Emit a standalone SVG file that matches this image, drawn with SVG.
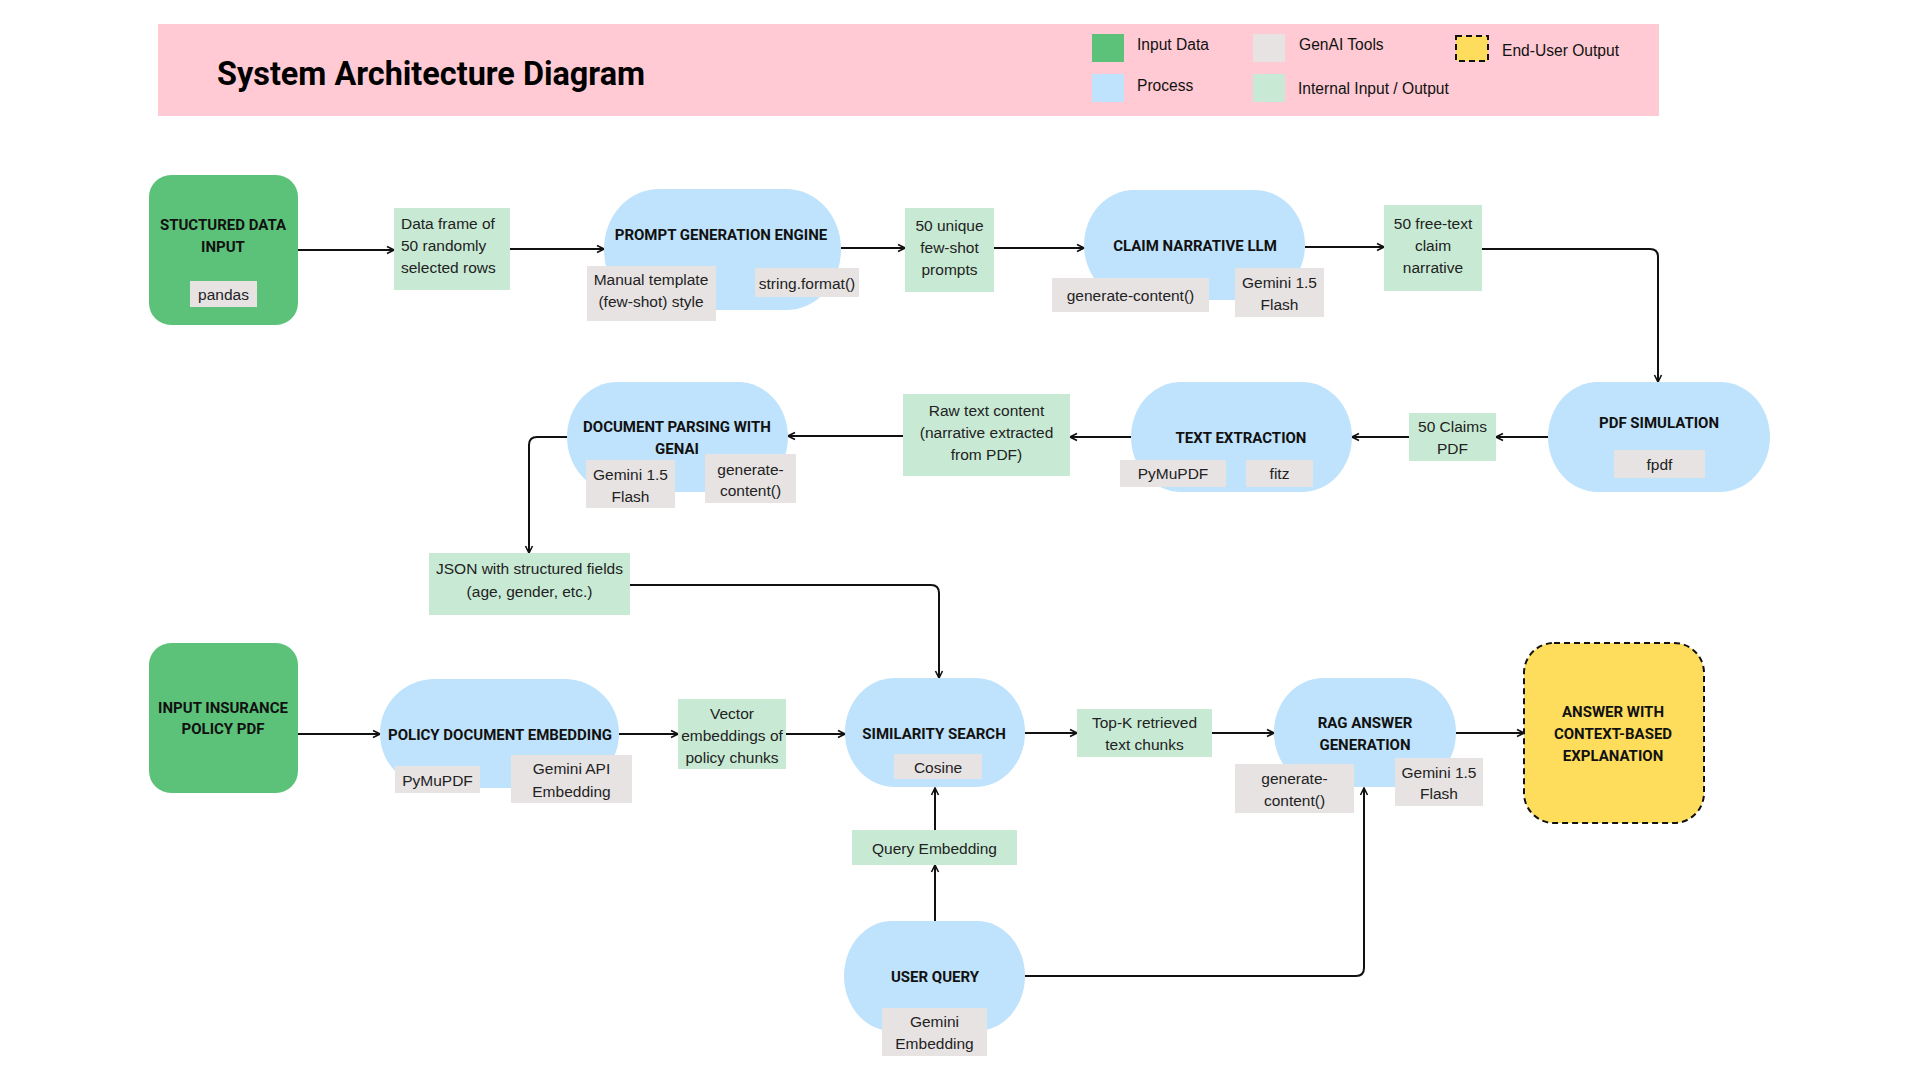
<svg xmlns="http://www.w3.org/2000/svg" width="1920" height="1080" viewBox="0 0 1920 1080">
<style>
.title{font-family:Roboto,"Liberation Sans",sans-serif;font-weight:700;font-size:32.4px;fill:#000}
.leg{font-family:"Liberation Sans",Arial,sans-serif;font-size:15.6px;fill:#111}
.nt{font-family:Roboto,"Liberation Sans",sans-serif;font-weight:700;font-size:15px;fill:#111;text-anchor:middle;dominant-baseline:central}
.t{font-family:"Liberation Sans",Arial,sans-serif;font-size:15.5px;fill:#222;text-anchor:middle;dominant-baseline:central}
.tl{font-family:"Liberation Sans",Arial,sans-serif;font-size:15.5px;fill:#222;dominant-baseline:central}
.inp{fill:#5CC179}
.proc{fill:#BFE3FC}
.io{fill:#C8EAD4}
.tool{fill:#E7E3E3}
.out{fill:#FEDC5C;stroke:#111;stroke-width:2;stroke-dasharray:6 4}
.c{fill:none;stroke:#111;stroke-width:2;marker-end:url(#ah)}
</style>
<defs>
<marker id="ah" viewBox="0 0 10 10" refX="9" refY="5" markerWidth="10" markerHeight="10" markerUnits="userSpaceOnUse" orient="auto">
<path d="M2,1.5 L9,5 L2,8.5" fill="none" stroke="#111" stroke-width="1.6"/>
</marker>
</defs>
<rect width="1920" height="1080" fill="#fff"/>
<g id="header">
<rect x="158" y="24" width="1501" height="92" fill="#FFCAD3"/>
<text class="title" x="217" y="85">System Architecture Diagram</text>
<rect x="1092" y="34" width="32" height="28" class="inp"/>
<text class="leg" x="1137" y="50">Input Data</text>
<rect x="1253" y="34" width="32" height="28" class="tool"/>
<text class="leg" x="1299" y="50">GenAI Tools</text>
<rect x="1456" y="36" width="32" height="25" class="out"/>
<text class="leg" x="1502" y="56">End-User Output</text>
<rect x="1092" y="74" width="32" height="28" class="proc"/>
<text class="leg" x="1137" y="91">Process</text>
<rect x="1253" y="74" width="32" height="28" class="io"/>
<text class="leg" x="1298" y="94">Internal Input / Output</text>
</g>
<g id="connectors">
<path class="c" d="M298,250 H394"/>
<path class="c" d="M510,249 H604"/>
<path class="c" d="M841,248 H905"/>
<path class="c" d="M994,248 H1084"/>
<path class="c" d="M1305,247 H1384"/>
<path class="c" d="M1482,249 H1650 Q1658,249 1658,257 V382"/>
<path class="c" d="M1548,437 H1496"/>
<path class="c" d="M1409,437 H1352"/>
<path class="c" d="M1131,437 H1070"/>
<path class="c" d="M903,436 H788"/>
<path class="c" d="M567,437 H537 Q529,437 529,445 V553"/>
<path class="c" d="M630,585 H931 Q939,585 939,593 V678"/>
<path class="c" d="M298,734 H380"/>
<path class="c" d="M619,734 H678"/>
<path class="c" d="M786,734 H845"/>
<path class="c" d="M1025,733 H1077"/>
<path class="c" d="M1212,733 H1274"/>
<path class="c" d="M1456,733 H1524"/>
<path class="c" d="M935,921 V865"/>
<path class="c" d="M935,830 V788"/>
<path class="c" d="M1025,976 H1356 Q1364,976 1364,968 V788"/>
</g>
<g id="structured-data-input">
<rect x="149" y="175" width="149" height="150" rx="22" class="inp"/>
<text class="nt" x="223" y="225">STUCTURED DATA</text>
<text class="nt" x="223" y="247">INPUT</text>
<rect x="190" y="281" width="67" height="26" class="tool"/>
<text class="t" x="223.5" y="294">pandas</text>
</g>
<g id="data-frame">
<rect x="394" y="208" width="116" height="82" class="io"/>
<text class="tl" x="401" y="223">Data frame of</text>
<text class="tl" x="401" y="245">50 randomly</text>
<text class="tl" x="401" y="267">selected rows</text>
</g>
<g id="prompt-generation-engine">
<rect x="604" y="189" width="237" height="121" rx="55" ry="60" class="proc"/>
<text class="nt" x="721" y="235">PROMPT GENERATION ENGINE</text>
<rect x="587" y="266" width="129" height="55" class="tool"/>
<text class="t" x="651" y="279">Manual template</text>
<text class="t" x="651" y="301">(few-shot) style</text>
<rect x="755" y="268" width="104" height="29" class="tool"/>
<text class="t" x="807" y="283">string.format()</text>
</g>
<g id="few-shot-prompts">
<rect x="905" y="208" width="89" height="84" class="io"/>
<text class="t" x="949.5" y="225">50 unique</text>
<text class="t" x="949.5" y="247">few-shot</text>
<text class="t" x="949.5" y="269">prompts</text>
</g>
<g id="claim-narrative-llm">
<rect x="1084" y="190" width="221" height="110" rx="50" ry="55" class="proc"/>
<text class="nt" x="1195" y="246">CLAIM NARRATIVE LLM</text>
<rect x="1052" y="278" width="157" height="34" class="tool"/>
<text class="t" x="1130.5" y="295">generate-content()</text>
<rect x="1235" y="268" width="89" height="49" class="tool"/>
<text class="t" x="1279.5" y="282">Gemini 1.5</text>
<text class="t" x="1279.5" y="304">Flash</text>
</g>
<g id="free-text-narrative">
<rect x="1384" y="205" width="98" height="86" class="io"/>
<text class="t" x="1433" y="223">50 free-text</text>
<text class="t" x="1433" y="245">claim</text>
<text class="t" x="1433" y="267">narrative</text>
</g>
<g id="pdf-simulation">
<rect x="1548" y="382" width="222" height="110" rx="50" ry="55" class="proc"/>
<text class="nt" x="1659" y="423">PDF SIMULATION</text>
<rect x="1614" y="450" width="91" height="28" class="tool"/>
<text class="t" x="1659.5" y="464">fpdf</text>
</g>
<g id="claims-pdf">
<rect x="1409" y="413" width="87" height="48" class="io"/>
<text class="t" x="1452.5" y="426">50 Claims</text>
<text class="t" x="1452.5" y="448">PDF</text>
</g>
<g id="text-extraction">
<rect x="1131" y="382" width="221" height="110" rx="50" ry="55" class="proc"/>
<text class="nt" x="1241" y="438">TEXT EXTRACTION</text>
<rect x="1120" y="460" width="106" height="27" class="tool"/>
<text class="t" x="1173" y="473.5">PyMuPDF</text>
<rect x="1246" y="460" width="67" height="27" class="tool"/>
<text class="t" x="1279.5" y="473.5">fitz</text>
</g>
<g id="raw-text-content">
<rect x="903" y="394" width="167" height="82" class="io"/>
<text class="t" x="986.5" y="410">Raw text content</text>
<text class="t" x="986.5" y="432">(narrative extracted</text>
<text class="t" x="986.5" y="454">from PDF)</text>
</g>
<g id="document-parsing">
<rect x="567" y="382" width="221" height="110" rx="50" ry="55" class="proc"/>
<text class="nt" x="677" y="427">DOCUMENT PARSING WITH</text>
<text class="nt" x="677" y="449">GENAI</text>
<rect x="586" y="460" width="89" height="48" class="tool"/>
<text class="t" x="630.5" y="474">Gemini 1.5</text>
<text class="t" x="630.5" y="496">Flash</text>
<rect x="705" y="454" width="91" height="49" class="tool"/>
<text class="t" x="750.5" y="469">generate-</text>
<text class="t" x="750.5" y="490">content()</text>
</g>
<g id="json-fields">
<rect x="429" y="553" width="201" height="62" class="io"/>
<text class="t" x="529.5" y="568">JSON with structured fields</text>
<text class="t" x="529.5" y="591">(age, gender, etc.)</text>
</g>
<g id="input-insurance-policy">
<rect x="149" y="643" width="149" height="150" rx="22" class="inp"/>
<text class="nt" x="223" y="708">INPUT INSURANCE</text>
<text class="nt" x="223" y="729">POLICY PDF</text>
</g>
<g id="policy-document-embedding">
<rect x="380" y="679" width="239" height="109" rx="55" ry="54" class="proc"/>
<text class="nt" x="500" y="735">POLICY DOCUMENT EMBEDDING</text>
<rect x="395" y="766" width="85" height="27" class="tool"/>
<text class="t" x="437.5" y="780">PyMuPDF</text>
<rect x="511" y="755" width="121" height="48" class="tool"/>
<text class="t" x="571.5" y="768">Gemini API</text>
<text class="t" x="571.5" y="791">Embedding</text>
</g>
<g id="vector-embeddings">
<rect x="678" y="699" width="108" height="70" class="io"/>
<text class="t" x="732" y="713">Vector</text>
<text class="t" x="732" y="735">embeddings of</text>
<text class="t" x="732" y="757">policy chunks</text>
</g>
<g id="similarity-search">
<rect x="845" y="678" width="180" height="109" rx="50" ry="54" class="proc"/>
<text class="nt" x="934" y="734">SIMILARITY SEARCH</text>
<rect x="894" y="754" width="88" height="25" class="tool"/>
<text class="t" x="938" y="767">Cosine</text>
</g>
<g id="top-k-chunks">
<rect x="1077" y="709" width="135" height="48" class="io"/>
<text class="t" x="1144.5" y="722">Top-K retrieved</text>
<text class="t" x="1144.5" y="744">text chunks</text>
</g>
<g id="rag-answer-generation">
<rect x="1274" y="678" width="182" height="109" rx="50" ry="54" class="proc"/>
<text class="nt" x="1365" y="723">RAG ANSWER</text>
<text class="nt" x="1365" y="745">GENERATION</text>
<rect x="1235" y="764" width="119" height="49" class="tool"/>
<text class="t" x="1294.5" y="778">generate-</text>
<text class="t" x="1294.5" y="800">content()</text>
<rect x="1395" y="758" width="88" height="48" class="tool"/>
<text class="t" x="1439" y="772">Gemini 1.5</text>
<text class="t" x="1439" y="793">Flash</text>
</g>
<g id="answer-output">
<rect x="1524" y="643" width="180" height="180" rx="30" class="out"/>
<text class="nt" x="1613" y="712">ANSWER WITH</text>
<text class="nt" x="1613" y="734">CONTEXT-BASED</text>
<text class="nt" x="1613" y="756">EXPLANATION</text>
</g>
<g id="query-embedding">
<rect x="852" y="830" width="165" height="35" class="io"/>
<text class="t" x="934.5" y="848">Query Embedding</text>
</g>
<g id="user-query">
<rect x="844" y="921" width="181" height="110" rx="48" ry="55" class="proc"/>
<text class="nt" x="935" y="977">USER QUERY</text>
<rect x="882" y="1008" width="105" height="48" class="tool"/>
<text class="t" x="934.5" y="1021">Gemini</text>
<text class="t" x="934.5" y="1043">Embedding</text>
</g>
</svg>
